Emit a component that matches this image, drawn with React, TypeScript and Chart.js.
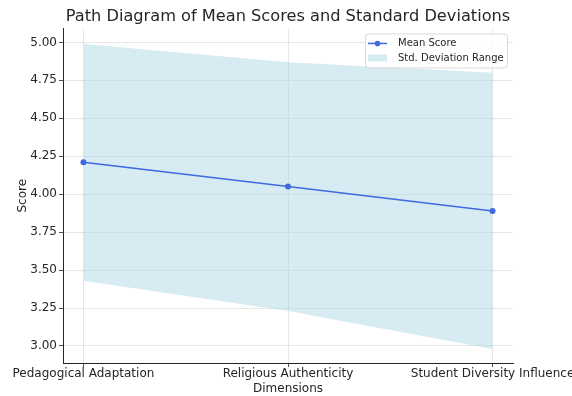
import React, { useEffect, useRef } from "react";
import { Chart, registerables } from "chart.js";

Chart.register(...registerables);

const categories = ["Pedagogical Adaptation", "Religious Authenticity", "Student Diversity Influence"];
const meanScores = [4.21, 4.05, 3.89];
const stdDevs = [0.78, 0.82, 0.91];
const yTickValues = [3.0, 3.25, 3.5, 3.75, 4.0, 4.25, 4.5, 4.75, 5.0];

const chartTitle = "Path Diagram of Mean Scores and Standard Deviations";
const xTitle = "Dimensions";
const yTitle = "Score";
const legendLabels = ["Mean Score", "Std. Deviation Range"];

const LINE_COLOR = "#4169e1";
const FILL_COLOR = "rgba(173,216,230,0.5)";
const TEXT_COLOR = "#262626";
const FONT = "'DejaVu Sans', sans-serif";

const legendPlugin = {
  id: "customLegend",
  afterDraw(chart: any) {
    const ctx = chart.ctx;
    const area = chart.chartArea;
    const w = 142;
    const h = 34;
    const x = area.right - 6 - w;
    const y = area.top + 5;
    ctx.save();
    ctx.beginPath();
    ctx.roundRect(x + 0.5, y + 0.5, w, h, 3);
    ctx.fillStyle = "rgba(255,255,255,0.8)";
    ctx.fill();
    ctx.strokeStyle = "#d9d9d9";
    ctx.lineWidth = 1;
    ctx.stroke();
    const ly = y + 10;
    ctx.beginPath();
    ctx.moveTo(x + 3, ly);
    ctx.lineTo(x + 22, ly);
    ctx.strokeStyle = LINE_COLOR;
    ctx.lineWidth = 1.5;
    ctx.stroke();
    ctx.beginPath();
    ctx.arc(x + 12.5, ly, 2.8, 0, Math.PI * 2);
    ctx.fillStyle = LINE_COLOR;
    ctx.fill();
    const py = y + 21;
    ctx.fillStyle = FILL_COLOR;
    ctx.fillRect(x + 3, py, 19, 7);
    ctx.fillStyle = TEXT_COLOR;
    ctx.font = `10px ${FONT}`;
    ctx.textBaseline = "middle";
    ctx.textAlign = "left";
    ctx.fillText(legendLabels[0], x + 33, ly);
    ctx.fillText(legendLabels[1], x + 33, py + 3.5);
    ctx.restore();
  },
};

export default function App() {
  const ref = useRef<HTMLCanvasElement>(null);
  useEffect(() => {
    if (!ref.current) return;
    const lower = meanScores.map((m, i) => ({ x: i, y: m - stdDevs[i] }));
    const upper = meanScores.map((m, i) => ({ x: i, y: m + stdDevs[i] }));
    const mean = meanScores.map((m, i) => ({ x: i, y: m }));
    const chart = new Chart(ref.current, {
      type: "line",
      data: {
        datasets: [
          {
            label: "lower",
            data: lower,
            borderWidth: 0,
            pointRadius: 0,
            fill: false,
            order: 2,
            borderColor: "rgba(0,0,0,0)",
          },
          {
            label: legendLabels[1],
            data: upper,
            borderWidth: 0,
            pointRadius: 0,
            fill: "-1",
            backgroundColor: FILL_COLOR,
            borderColor: "rgba(0,0,0,0)",
            order: 1,
          },
          {
            label: legendLabels[0],
            data: mean,
            borderColor: LINE_COLOR,
            backgroundColor: LINE_COLOR,
            borderWidth: 1.5,
            pointRadius: 3,
            pointBackgroundColor: LINE_COLOR,
            pointBorderWidth: 0,
            fill: false,
            order: 0,
          },
        ],
      },
      options: {
        responsive: false,
        animation: false,
        events: [],
        layout: { padding: { left: 0, right: 59, top: 0, bottom: 0 } },
        plugins: {
          legend: { display: false },
          tooltip: { enabled: false },
          title: {
            display: true,
            fullSize: false,
            text: chartTitle,
            color: TEXT_COLOR,
            font: { family: FONT, size: 16.2, weight: "normal" },
            padding: { top: 7, bottom: 2 },
          },
        },
        scales: {
          x: {
            type: "linear",
            min: -0.1,
            max: 2.1,
            afterBuildTicks: (s: any) => {
              s.ticks = categories.map((_, i) => ({ value: i }));
            },
            afterFit: (s: any) => {
              s.height = 33;
              s.paddingRight = 0;
              s.paddingLeft = 0;
            },
            ticks: {
              color: TEXT_COLOR,
              font: { family: FONT, size: 12 },
              padding: 0,
              maxRotation: 0,
              autoSkip: false,
              callback: (v: any) => categories[v] ?? "",
            },
            grid: {
              color: "rgba(0,0,0,0.12)",
              borderDash: [2, 2],
              tickColor: TEXT_COLOR,
              tickBorderDash: [],
              tickLength: 4,
              lineWidth: 0.8,
            },
            border: { display: true, color: TEXT_COLOR, width: 1 },
            title: {
              display: true,
              text: xTitle,
              color: TEXT_COLOR,
              font: { family: FONT, size: 12 },
              padding: { top: 0, bottom: 0 },
            },
          },
          y: {
            min: 2.888,
            max: 5.092,
            afterBuildTicks: (s: any) => {
              s.ticks = yTickValues.map((v) => ({ value: v }));
            },
            afterFit: (s: any) => {
              s.width = 63;
            },
            ticks: {
              color: TEXT_COLOR,
              font: { family: FONT, size: 12 },
              padding: 2,
              callback: (v: any) => Number(v).toFixed(2),
            },
            grid: {
              color: "rgba(0,0,0,0.12)",
              borderDash: [2, 2],
              tickColor: TEXT_COLOR,
              tickBorderDash: [],
              tickLength: 4,
              lineWidth: 0.8,
            },
            border: { display: true, color: TEXT_COLOR, width: 1 },
            title: {
              display: true,
              text: yTitle,
              color: TEXT_COLOR,
              font: { family: FONT, size: 12 },
              padding: { top: 16, bottom: 0 },
            },
          },
        },
      },
      plugins: [legendPlugin],
    } as any);
    return () => chart.destroy();
  }, []);
  return (
    <div style={{ position: "fixed", left: 0, top: 0, width: 572, height: 396, background: "#fff" }}>
      <canvas ref={ref} width={572} height={396} />
    </div>
  );
}
